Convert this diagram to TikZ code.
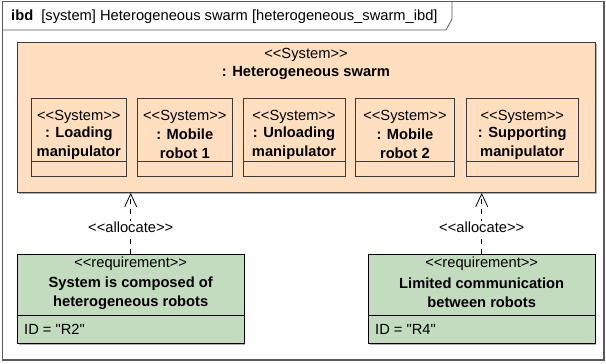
\documentclass[tikz,border=0pt]{standalone}
\usepackage{fontspec}
\newfontfamily\umlfont{Liberation Sans}
\usetikzlibrary{arrows.meta}
\usetikzlibrary{shadows}
\definecolor{partorange}{HTML}{FFDFC0}
\definecolor{reqgreen}{HTML}{C3DBBF}
\definecolor{edgegray}{HTML}{3A3A3A}

\begin{document}
\begin{tikzpicture}[x=1pt, y=-1pt,
  every node/.style={font=\umlfont\fontsize{14.7}{19.2}\selectfont, inner sep=0pt},
  frameline/.style={draw=black!65, line width=1.1pt},
  swarmbox/.style={draw=edgegray, line width=0.9pt, fill=partorange, anchor=north west,
    drop shadow={shadow xshift=1.5pt, shadow yshift=-1.5pt, fill=black, opacity=0.3}},
  partbox/.style={draw=edgegray, line width=0.9pt, anchor=north west, minimum height=78pt},
  reqbox/.style={draw=black, line width=0.9pt, fill=reqgreen, anchor=north west,
    minimum width=226.5pt, minimum height=89pt,
    drop shadow={shadow xshift=1.5pt, shadow yshift=-1.5pt, fill=black, opacity=0.3}},
  nametext/.style={font=\umlfont\bfseries\fontsize{14.7}{19.2}\selectfont, align=center},
  allocline/.style={draw=black, line width=0.8pt, dash pattern=on 5pt off 5pt,
    -{Straight Barb[length=13pt, width=12pt, line width=0.8pt]}},
  ]
\useasboundingbox (0,0) rectangle (606,364);
% diagram frame and header tab
\draw[frameline] (2.5,1.5) rectangle (604,360);
\draw[frameline, line width=0.8pt] (2.5,30) -- (446,30) -- (452,19) -- (452,1.5);
\node[anchor=west] (title) at (11,16.5) {\textbf{ibd}\hspace{0.55em}[system] Heterogeneous swarm [heterogeneous\_swarm\_ibd]};
% the swarm block
\node[swarmbox, minimum width=578pt, minimum height=150pt] (swarm) at (17,42) {};
\node (swarmst) at (306,55) {<<System>>};
\node[nametext] (swarmname) at (306,73.5) {: Heterogeneous swarm};
% its parts
\foreach \x/\w/\nm/\txt in {30.7/95.3/loading/{: Loading\\manipulator},
    136.7/95.3/mobileA/{: Mobile\\robot 1},
    242.7/101.8/unloading/{: Unloading\\manipulator},
    355/99/mobileB/{: Mobile\\robot 2},
    465.7/112.3/supporting/{: Supporting\\manipulator}} {
  \node[partbox, minimum width=\w pt] (\nm) at (\x,98) {};
  \node (\nm st) at ([yshift=-18.5pt]\nm.north) {<<System>>};
  \node[nametext] (\nm name) at ([yshift=-45.5pt]\nm.north) {\txt};
  \draw[edgegray, line width=0.9pt] ([yshift=15pt]\nm.south west) -- ([yshift=15pt]\nm.south east);
}
% requirements
\node[reqbox] (req2) at (17,254) {};
\node (req2st) at ([yshift=-10pt]req2.north) {<<requirement>>};
\node[nametext] (req2name) at ([yshift=-39pt]req2.north) {System is composed of\\heterogeneous robots};
\draw[black, line width=0.9pt] ([yshift=28pt]req2.south west) -- ([yshift=28pt]req2.south east);
\node[anchor=west] (req2id) at ([xshift=7pt, yshift=14.5pt]req2.south west) {ID = "R2"};

\node[reqbox] (req4) at (368,254) {};
\node (req4st) at ([yshift=-10pt]req4.north) {<<requirement>>};
\node[nametext] (req4name) at ([yshift=-39pt]req4.north) {Limited communication\\between robots};
\draw[black, line width=0.9pt] ([yshift=28pt]req4.south west) -- ([yshift=28pt]req4.south east);
\node[anchor=west] (req4id) at ([xshift=7pt, yshift=14.5pt]req4.south west) {ID = "R4"};
% allocations
\draw[allocline] (req2.north) -- node[pos=0.43, fill=white, inner sep=1pt] (alloc2) {<<allocate>>} (req2.north |- swarm.south);
\draw[allocline] (req4.north) -- node[pos=0.43, fill=white, inner sep=1pt] (alloc4) {<<allocate>>} (req4.north |- swarm.south);
\end{tikzpicture}
\end{document}
